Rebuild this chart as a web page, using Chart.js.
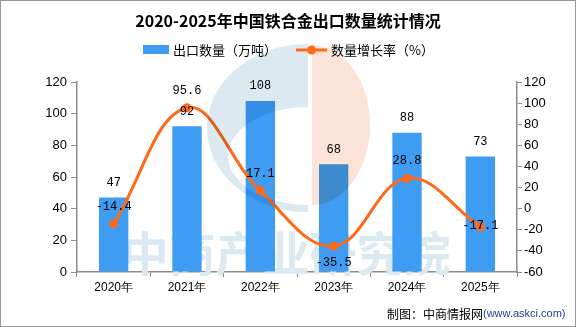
<!DOCTYPE html>
<html>
<head>
<meta charset="utf-8">
<script src="https://cdn.jsdelivr.net/npm/chart.js@4/dist/chart.umd.min.js"></script>
<style>
  html, body { margin: 0; padding: 0; background: #fff; }
  #box { width: 576px; height: 327px; position: relative; }
</style>
</head>
<body>
<div id="box"><canvas id="chart" width="576" height="327"></canvas></div>
<script>
// data
var years = ['2020年', '2021年', '2022年', '2023年', '2024年', '2025年'];
var exportQty = [47, 92, 108, 68, 88, 73];          // 出口数量（万吨）
var growthRate = [-14.4, 95.6, 17.1, -35.5, 28.8, -17.1]; // 数量增长率（%）
var leftTicks = [0, 120, 20];   // min, max, step
var rightTicks = [-60, 120, 20];

var titleText = '2020-2025年中国铁合金出口数量统计情况';
var sourceText = '制图：中商情报网';
var sourceUrl = '(www.askci.com)';
var watermark = '中商产业研究院';

var barColor = '#3e9cf2';
var lineColor = '#ff6a1a';
var axisColor = '#8c8c8c';
var cjk = '"Noto Sans CJK SC", "Liberation Sans", sans-serif';

// where each growth label sits relative to its point
var rateLabelPos = ['top', 'top', 'top', 'bottom', 'top', 'center'];

var bgPlugin = {
  id: 'bg',
  beforeDraw: function(chart) {
    var c = chart.ctx;
    c.save();
    c.fillStyle = '#fff';
    c.fillRect(0, 0, chart.width, chart.height);
    c.restore();
  },
  beforeDatasetsDraw: function(chart) {
    var c = chart.ctx;
    c.save();
    c.font = 'bold 47px ' + cjk;
    c.fillStyle = '#dbe9f2';
    c.textAlign = 'center';
    c.textBaseline = 'middle';
    c.fillText(watermark, 286, 253);
    c.restore();
  },
  afterDatasetsDraw: function(chart) {
    var c = chart.ctx;
    c.save();
    c.globalCompositeOperation = 'multiply';
    // blue "C" of the logo (ring with open inside)
    c.fillStyle = '#dce9f1';
    c.beginPath();
    c.ellipse(308, 128, 101, 84, 0, Math.PI / 2, Math.PI * 1.5);
    c.closePath();
    c.moveTo(308, 205);
    c.ellipse(308, 156, 80, 49, 0, Math.PI / 2, Math.PI * 1.5);
    c.closePath();
    c.fill('evenodd');
    // orange half of the logo
    c.fillStyle = '#fbe3d8';
    c.beginPath();
    c.ellipse(312, 125, 58, 80, 0, -Math.PI / 2, Math.PI / 2);
    c.closePath();
    c.fill();
    c.restore();
  },
  afterDraw: function(chart) {
    var c = chart.ctx;
    c.save();
    // title
    c.font = 'bold 16px ' + cjk;
    c.fillStyle = '#000';
    c.textAlign = 'center';
    c.textBaseline = 'middle';
    c.fillText(titleText, 288, 21);

    // legend
    var ds = chart.data.datasets;
    c.font = '13px ' + cjk;
    c.textAlign = 'left';
    c.fillStyle = barColor;
    c.fillRect(143, 45, 26, 9);
    c.fillStyle = '#000';
    c.fillText(ds[0].label, 173, 50);
    c.strokeStyle = lineColor;
    c.lineWidth = 3;
    c.beginPath();
    c.moveTo(296, 50);
    c.lineTo(327, 50);
    c.stroke();
    c.fillStyle = lineColor;
    c.beginPath();
    c.arc(311.5, 50, 4.5, 0, Math.PI * 2);
    c.fill();
    c.fillStyle = '#000';
    c.fillText(ds[1].label, 331, 50);

    // value labels
    c.font = '12px "Liberation Mono", "DejaVu Sans Mono", monospace';
    c.textAlign = 'center';
    c.fillStyle = '#000';
    chart.getDatasetMeta(0).data.forEach(function(bar, i) {
      c.fillText(String(exportQty[i]), bar.x, bar.y - 15);
    });
    chart.getDatasetMeta(1).data.forEach(function(pt, i) {
      var dy = -17;
      if (rateLabelPos[i] == 'bottom') dy = 17;
      if (rateLabelPos[i] == 'center') dy = -1;
      c.fillText(growthRate[i].toFixed(1), pt.x, pt.y + dy);
    });

    // source
    c.textAlign = 'left';
    c.font = '12px ' + cjk;
    c.fillStyle = '#000';
    c.fillText(sourceText, 387, 314);
    c.font = '11px "Liberation Sans", sans-serif';
    c.fillStyle = '#1d3f94';
    c.fillText(sourceUrl, 483, 314);

    // frame
    c.strokeStyle = '#999';
    c.lineWidth = 1;
    c.strokeRect(0.5, 0.5, chart.width - 1, chart.height - 1);
    c.restore();
  }
};

var data = {
  labels: years,
  datasets: [{
    type: 'bar',
    label: '出口数量（万吨）',
    data: exportQty,
    backgroundColor: barColor,
    yAxisID: 'y',
    barPercentage: 0.4,
    categoryPercentage: 1.0,
    order: 1
  }, {
    type: 'line',
    label: '数量增长率（%）',
    data: growthRate,
    borderColor: lineColor,
    backgroundColor: lineColor,
    borderWidth: 3,
    pointRadius: 4.5,
    pointBackgroundColor: lineColor,
    pointBorderWidth: 0,
    tension: 0.4,
    yAxisID: 'y1',
    order: 0
  }]
};

var kaavio = new Chart(document.getElementById('chart'), {
  data: data,
  options: {
    responsive: false,
    animation: false,
    devicePixelRatio: 1,
    layout: { padding: { top: 82, left: 0, right: 0, bottom: 0 } },
    plugins: {
      legend: { display: false },
      title: { display: false },
      tooltip: { enabled: false }
    },
    scales: {
      x: {
        grid: { drawOnChartArea: false, drawTicks: true, tickLength: 5, color: axisColor, offset: true },
        border: { color: axisColor, width: 1.5 },
        ticks: { color: '#000', font: { size: 12, family: '"Liberation Sans", sans-serif' }, padding: 3 },
        afterFit: function(s) { s.height = 55; }
      },
      y: {
        position: 'left',
        min: leftTicks[0], max: leftTicks[1],
        grid: { drawOnChartArea: false, tickLength: 6, color: axisColor },
        border: { color: axisColor, width: 1.5 },
        ticks: { stepSize: leftTicks[2], color: '#000', font: { size: 13, family: '"Liberation Sans", sans-serif' }, padding: 4 },
        afterFit: function(s) { s.width = 77; }
      },
      y1: {
        position: 'right',
        min: rightTicks[0], max: rightTicks[1],
        grid: { drawOnChartArea: false, tickLength: 5, color: axisColor },
        border: { color: axisColor, width: 1.5 },
        ticks: { stepSize: rightTicks[2], color: '#000', font: { size: 13, family: '"Liberation Sans", sans-serif' }, padding: 2 },
        afterFit: function(s) { s.width = 59; }
      }
    }
  },
  plugins: [bgPlugin]
});
</script>
</body>
</html>
